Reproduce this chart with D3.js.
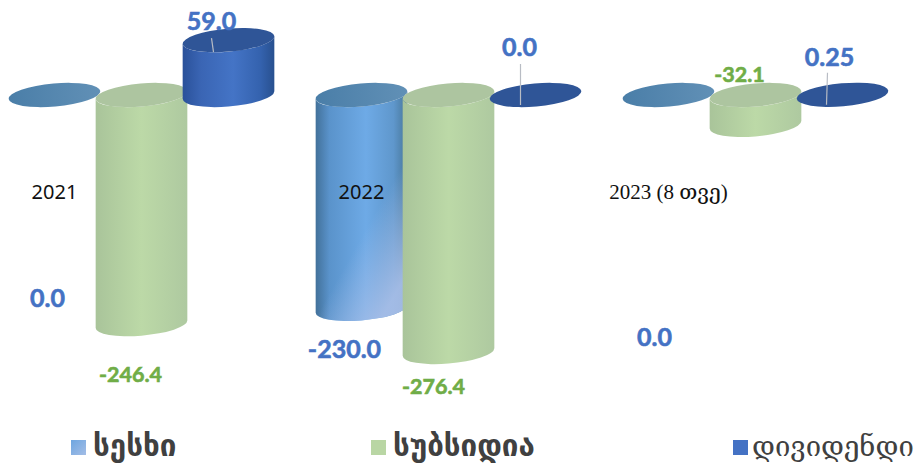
<!DOCTYPE html>
<html>
<head>
<meta charset="utf-8">
<script src="https://cdn.jsdelivr.net/npm/d3@7"></script>
<style>
  html, body { margin: 0; padding: 0; background: #fff; }
  svg { display: block; }
</style>
</head>
<body>
<svg id="chart" width="914" height="464"></svg>
<script>
var categories = ['2021', '2022', '2023 (8 თვე)'];
var seriesNames = ['სესხი', 'სუბსიდია', 'დივიდენდი'];
var loanValues = [0, -230, 0];
var subsidyValues = [-246.4, -276.4, -32.1];
var dividendValues = [59, 0, 0.25];
var loanLabels = ['0.0', '-230.0', '0.0'];
var subsidyLabels = ['-246.4', '-276.4', '-32.1'];
var dividendLabels = ['59.0', '0.0', '0.25'];

var svg = d3.select('#chart'),
  rx = 46,
  ry = 11.5,
  tilt = -5,
  rad = (tilt * Math.PI) / 180;

var groupScale = d3.scaleBand().domain(categories).range([-12, 909]);
var seriesScale = d3.scalePoint().domain(seriesNames).range([-87, 87]);
var yScale = d3.scaleLinear().domain([-300, 100]).range([374, 2]);

var sideX = Math.sqrt(rx * rx * Math.cos(rad) ** 2 + ry * ry * Math.sin(rad) ** 2);
var sideY = ((rx * rx - ry * ry) * Math.sin(rad) * Math.cos(rad)) / sideX;

// per series look, and where the labels sit relative to their cylinder
var looks = [
  { values: loanValues, labels: loanLabels, id: 'loan', top: 'url(#loanTop)', color: '#4472c4', size: 25,
    nudge: [[-7, 203], [-17, 40], [-14, 242]] },
  { values: subsidyValues, labels: subsidyLabels, id: 'subsidy', top: '#adc5a0', color: '#70ad47', size: 21.5,
    nudge: [[-11, 50], [-15, 34], [-16, -50]] },
  { values: dividendValues, labels: dividendLabels, id: 'dividend', top: '#2f5597', color: '#4472c4', size: 25,
    nudge: [[-17, -19], [-16, -48], [-13, -38]],
    leaders: [[-17, -2, -15, 12], [-15, -31, -15, 10], [-15, -22, -16, 10]] }
];

var defs = svg.append('defs');

function gradient(id, stops, x2, y2) {
  var g = defs.append('linearGradient').attr('id', id)
    .attr('x1', 0).attr('y1', 0).attr('x2', x2 === undefined ? 1 : x2).attr('y2', y2 === undefined ? 0 : y2);
  stops.forEach(function (s) {
    g.append('stop').attr('offset', s[0]).attr('stop-color', s[1]).attr('stop-opacity', s[2] === undefined ? 1 : s[2]);
  });
}
gradient('loan', [[0, '#42719a'], [0.15, '#5a93cb'], [0.55, '#6eaae6'], [0.85, '#5f97cc'], [1, '#477699']]);
gradient('loanGlow', [[0.66, '#a9bfe8', 0], [1, '#a9bfe8', 0.9]], 0.7, 1);
gradient('loanTop', [[0, '#4a7ea8'], [1, '#6190b6']]);
gradient('subsidy', [[0, '#a9c49a'], [0.5, '#bcd9a7'], [1, '#aec9a0']]);
gradient('dividend', [[0, '#2a519a'], [0.2, '#3a65b4'], [0.55, '#4474c6'], [0.85, '#3462ae'], [1, '#28508f']]);
gradient('swatchLoan', [[0, '#6ea6e0'], [1, '#a3bde6']], 1, 1);

function topEllipse(g, cy, fill) {
  g.append('ellipse')
    .attr('rx', rx).attr('ry', ry)
    .attr('transform', 'translate(0,' + cy + ') rotate(' + tilt + ')')
    .attr('fill', fill);
}

function bodyPath(y0, y1) {
  // side down from one cap to the other, round the lower cap and back up
  var upper = Math.min(y0, y1), lower = Math.max(y0, y1);
  return 'M' + -sideX + ',' + (upper - sideY) +
    'L' + -sideX + ',' + (lower - sideY) +
    'A' + rx + ',' + ry + ',' + tilt + ',0,0,' + sideX + ',' + (lower + sideY) +
    'L' + sideX + ',' + (upper + sideY) +
    'A' + rx + ',' + ry + ',' + tilt + ',0,1,' + -sideX + ',' + (upper - sideY) + 'Z';
}

// painted group by group, left to right, so each cylinder covers its left neighbour
categories.forEach(function (cat, c) {
  looks.forEach(function (look, s) {
    var value = look.values[c],
      g = svg.append('g').attr('transform', 'translate(' + (groupScale(cat) + groupScale.bandwidth() / 2 + seriesScale(seriesNames[s])) + ',0)'),
      y0 = yScale(0),
      y1 = yScale(value);
    if (Math.abs(y1 - y0) > 1) {
      g.append('path').attr('d', bodyPath(y0, y1)).attr('fill', 'url(#' + look.id + ')');
      if (look.id === 'loan') g.append('path').attr('d', bodyPath(y0, y1)).attr('fill', 'url(#loanGlow)');
    }
    topEllipse(g, Math.min(y0, y1), look.top);
  });
});

// category names over the cylinders
svg.append('g').selectAll('text').data(categories).enter().append('text')
  .attr('x', function (d) { return groupScale(d) + groupScale.bandwidth() / 2 - 87; })
  .attr('y', 199)
  .attr('text-anchor', 'middle')
  .attr('font-family', function (d, i) { return i === 2 ? "'Liberation Serif', 'DejaVu Serif', serif" : "'Noto Sans', sans-serif"; })
  .attr('font-size', function (d, i) { return i === 2 ? 21 : 20; })
  .attr('fill', '#111')
  .text(function (d) { return d; });

// value labels and the thin leader lines of the dividend series
looks.forEach(function (look, s) {
  categories.forEach(function (cat, c) {
    var cx = groupScale(cat) + groupScale.bandwidth() / 2 + seriesScale(seriesNames[s]),
      cy = yScale(look.values[c]);
    if (look.leaders) {
      var l = look.leaders[c];
      svg.append('line')
        .attr('x1', cx + l[0]).attr('y1', cy + l[1])
        .attr('x2', cx + l[2]).attr('y2', cy + l[3])
        .attr('stroke', '#b8bcc4').attr('stroke-width', 1.2);
    }
    svg.append('text')
      .attr('x', cx + look.nudge[c][0])
      .attr('y', cy + look.nudge[c][1])
      .attr('dy', '0.35em')
      .attr('text-anchor', 'middle')
      .attr('font-family', 'Lato, sans-serif')
      .attr('font-weight', 700)
      .attr('font-size', look.size)
      .attr('fill', look.color)
      .attr('stroke', look.color)
      .attr('stroke-width', 0.6)
      .text(look.labels[c]);
  });
});

// legend
var legendX = d3.scaleOrdinal().domain(seriesNames).range([71, 371, 733]);
var legend = svg.append('g').selectAll('g').data(seriesNames).enter().append('g')
  .attr('transform', function (d) { return 'translate(' + legendX(d) + ',440)'; });
legend.append('rect')
  .attr('width', 15).attr('height', 15)
  .attr('fill', function (d, i) { return ['url(#swatchLoan)', '#b9d6a4', '#4472c4'][i]; });
legend.append('text')
  .attr('x', function (d, i) { return i === 2 ? 19 : 22; })
  .attr('y', 16)
  .attr('font-family', function (d, i) { return i === 2 ? "'DejaVu Serif', serif" : "'DejaVu Sans', sans-serif"; })
  .attr('font-weight', function (d, i) { return i === 2 ? 400 : 700; })
  .attr('font-size', function (d, i) { return i === 2 ? 27.5 : 29.5; })
  .attr('fill', '#404040')
  .text(function (d) { return d; });
</script>
</body>
</html>
